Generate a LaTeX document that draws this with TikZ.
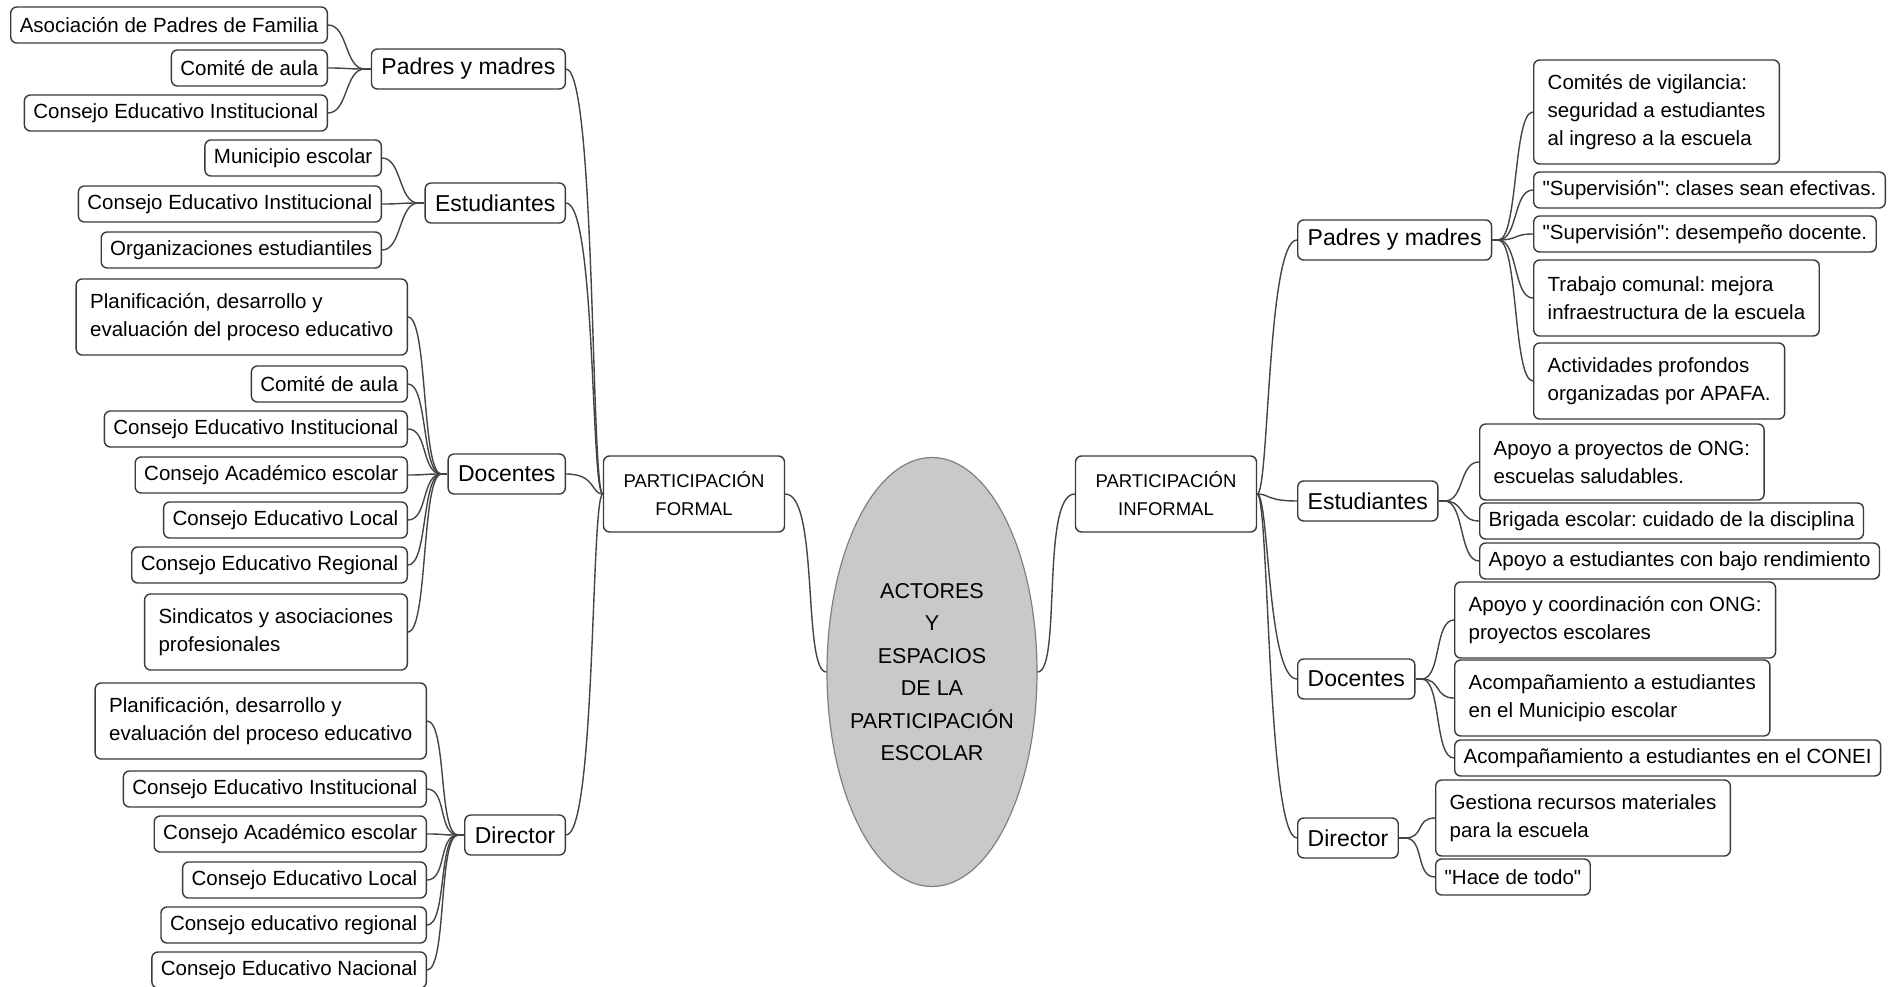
\documentclass[tikz,border=0pt]{standalone}
\usepackage{fontspec}
\setmainfont{Liberation Sans}
\frenchspacing
\usetikzlibrary{shapes.geometric}
\definecolor{fline}{HTML}{3A3A3A}
\definecolor{flink}{HTML}{444444}
\definecolor{fcore}{HTML}{C9C9C9}
\definecolor{fcoreline}{HTML}{7F7F7F}
\tikzset{
  leaf/.style     = {draw=fline, line width=1.4pt, rounded corners=6pt, fill=white,
                     font=\fontsize{20.5}{28}\selectfont, inner xsep=9pt,
                     inner ysep=0pt, minimum height=36pt},
  leafm/.style    = {leaf, align=left, inner xsep=14pt, minimum height=76pt},
  actor/.style    = {leaf, font=\fontsize{23}{28}\selectfont, inner xsep=10pt,
                     minimum height=40pt},
  rama/.style     = {leaf, align=center, font=\fontsize{18.5}{28}\selectfont,
                     minimum width=181pt, minimum height=76pt},
  core/.style     = {ellipse, draw=fcoreline, fill=fcore, line width=1.2pt,
                     minimum width=210pt, minimum height=429pt, inner sep=0pt},
  coretext/.style = {align=center, font=\fontsize{21.5}{32.5}\selectfont, inner sep=0pt},
  link/.style     = {draw=flink, line width=1.4pt},
}
\begin{document}
\begin{tikzpicture}[x=1pt, y=-1pt]
\useasboundingbox (0,0) rectangle (1888,987);
% ---- centre and the two branches ----
\node[core] (centro) at (932,672) {};
\node[coretext] (centrotxt) at (centro.center)
  {ACTORES\\Y\\ESPACIOS\\DE LA\\PARTICIPACIÓN\\ESCOLAR};
\node[rama] (formal)   at (694,494)  {PARTICIPACIÓN\\FORMAL};
\node[rama] (informal) at (1166,494) {PARTICIPACIÓN\\INFORMAL};
\draw[link] (formal.east) .. controls +(34,0) and +(-24,0) .. (centro.west);
\draw[link] (informal.west) .. controls +(-34,0) and +(24,0) .. (centro.east);
% ---- actors, formal side ----
\node[actor, anchor=east] (pmL) at (566,69)  {Padres y madres};
\node[actor, anchor=east] (esL) at (566,203) {Estudiantes};
\node[actor, anchor=east] (doL) at (566,474) {Docentes};
\node[actor, anchor=east] (diL) at (566,835) {Director};
\foreach \a in {pmL,esL,doL,diL}
  \draw[link] (\a.east) .. controls +(30,0) and +(-12,0) .. (formal.west);
% ---- actors, informal side ----
\node[actor, anchor=west] (pmR) at (1297,240) {Padres y madres};
\node[actor, anchor=west] (esR) at (1297,501) {Estudiantes};
\node[actor, anchor=west] (doR) at (1297,679) {Docentes};
\node[actor, anchor=west] (diR) at (1297,838) {Director};
\foreach \a in {pmR,esR,doR,diR}
  \draw[link] (informal.east) .. controls +(12,0) and +(-30,0) .. (\a.west);
% ---- formal: padres y madres ----
\node[leaf, anchor=east] (apafa)    at (328,25)  {Asociación de Padres de Familia};
\node[leaf, anchor=east] (pmcomite) at (328,68)  {Comité de aula};
\node[leaf, anchor=east] (pmconei)  at (328,113) {Consejo Educativo Institucional};
\coordinate (pmLh) at ([xshift=-6pt]pmL.west);
\foreach \c in {apafa,pmcomite,pmconei}
  \draw[link] (\c.east) .. controls +(20,0) and +(-20,0) .. (pmLh);
\draw[link] (pmLh) -- (pmL.west);
% ---- formal: estudiantes ----
\node[leaf, anchor=east] (municipio) at (382,158) {Municipio escolar};
\node[leaf, anchor=east] (esconei)   at (382,204) {Consejo Educativo Institucional};
\node[leaf, anchor=east] (organiz)   at (382,250) {Organizaciones estudiantiles};
\coordinate (esLh) at ([xshift=-6pt]esL.west);
\foreach \c in {municipio,esconei,organiz}
  \draw[link] (\c.east) .. controls +(20,0) and +(-20,0) .. (esLh);
\draw[link] (esLh) -- (esL.west);
% ---- formal: docentes ----
\node[leafm, anchor=east] (doplan)  at (408,317)
  {Planificación, desarrollo y\\evaluación del proceso educativo};
\node[leaf, anchor=east]  (docomite) at (408,384) {Comité de aula};
\node[leaf, anchor=east]  (doconei)  at (408,429) {Consejo Educativo Institucional};
\node[leaf, anchor=east]  (doacad)   at (408,475) {Consejo Académico escolar};
\node[leaf, anchor=east]  (dolocal)  at (408,520) {Consejo Educativo Local};
\node[leaf, anchor=east]  (doreg)    at (408,565) {Consejo Educativo Regional};
\node[leafm, anchor=east] (dosind)   at (408,632)
  {Sindicatos y asociaciones\\profesionales};
\coordinate (doLh) at ([xshift=-6pt]doL.west);
\foreach \c in {doplan,docomite,doconei,doacad,dolocal,doreg,dosind}
  \draw[link] (\c.east) .. controls +(20,0) and +(-20,0) .. (doLh);
\draw[link] (doLh) -- (doL.west);
% ---- formal: director ----
\node[leafm, anchor=east] (diplan)  at (427,721)
  {Planificación, desarrollo y\\evaluación del proceso educativo};
\node[leaf, anchor=east]  (diconei) at (427,789) {Consejo Educativo Institucional};
\node[leaf, anchor=east]  (diacad)  at (427,834) {Consejo Académico escolar};
\node[leaf, anchor=east]  (dilocal) at (427,880) {Consejo Educativo Local};
\node[leaf, anchor=east]  (direg)   at (427,925) {Consejo educativo regional};
\node[leaf, anchor=east]  (dinac)   at (427,970) {Consejo Educativo Nacional};
\coordinate (diLh) at ([xshift=-6pt]diL.west);
\foreach \c in {diplan,diconei,diacad,dilocal,direg,dinac}
  \draw[link] (\c.east) .. controls +(20,0) and +(-20,0) .. (diLh);
\draw[link] (diLh) -- (diL.west);
% ---- informal: padres y madres ----
\node[leafm, anchor=west, minimum height=104pt] (vigil) at (1533,112)
  {Comités de vigilancia:\\seguridad a estudiantes\\al ingreso a la escuela};
\node[leaf, anchor=west]  (supclase) at (1533,190)
  {\textquotedbl Supervisión\textquotedbl: clases sean efectivas.};
\node[leaf, anchor=west]  (supdoc)   at (1533,234)
  {\textquotedbl Supervisión\textquotedbl: desempeño docente.};
\node[leafm, anchor=west] (comunal)  at (1533,298)
  {Trabajo comunal: mejora\\infraestructura de la escuela};
\node[leafm, anchor=west] (activ)    at (1533,381)
  {Actividades profondos\\organizadas por APAFA.};
\coordinate (pmRh) at ([xshift=6pt]pmR.east);
\draw[link] (pmR.east) -- (pmRh);
\foreach \c in {vigil,supclase,supdoc,comunal,activ}
  \draw[link] (pmRh) .. controls +(20,0) and +(-20,0) .. (\c.west);
% ---- informal: estudiantes ----
\node[leafm, anchor=west] (ong)     at (1479,462)
  {Apoyo a proyectos de ONG:\\escuelas saludables.};
\node[leaf, anchor=west]  (brigada) at (1479,521) {Brigada escolar: cuidado de la disciplina};
\node[leaf, anchor=west]  (bajo)    at (1479,561) {Apoyo a estudiantes con bajo rendimiento};
\coordinate (esRh) at ([xshift=6pt]esR.east);
\draw[link] (esR.east) -- (esRh);
\foreach \c in {ong,brigada,bajo}
  \draw[link] (esRh) .. controls +(20,0) and +(-20,0) .. (\c.west);
% ---- informal: docentes ----
\node[leafm, anchor=west] (coord)   at (1454,620)
  {Apoyo y coordinación con ONG:\\proyectos escolares};
\node[leafm, anchor=west] (acommun) at (1454,698)
  {Acompañamiento a estudiantes\\en el Municipio escolar};
\node[leaf, anchor=west]  (aconei)  at (1454,758) {Acompañamiento a estudiantes en el CONEI};
\coordinate (doRh) at ([xshift=6pt]doR.east);
\draw[link] (doR.east) -- (doRh);
\foreach \c in {coord,acommun,aconei}
  \draw[link] (doRh) .. controls +(20,0) and +(-20,0) .. (\c.west);
% ---- informal: director ----
\node[leafm, anchor=west] (gestiona) at (1435,818)
  {Gestiona recursos materiales\\para la escuela};
\node[leaf, anchor=west]  (todo)     at (1435,877)
  {\textquotedbl Hace de todo\textquotedbl};
\coordinate (diRh) at ([xshift=6pt]diR.east);
\draw[link] (diR.east) -- (diRh);
\foreach \c in {gestiona,todo}
  \draw[link] (diRh) .. controls +(20,0) and +(-20,0) .. (\c.west);
\end{tikzpicture}
\end{document}
